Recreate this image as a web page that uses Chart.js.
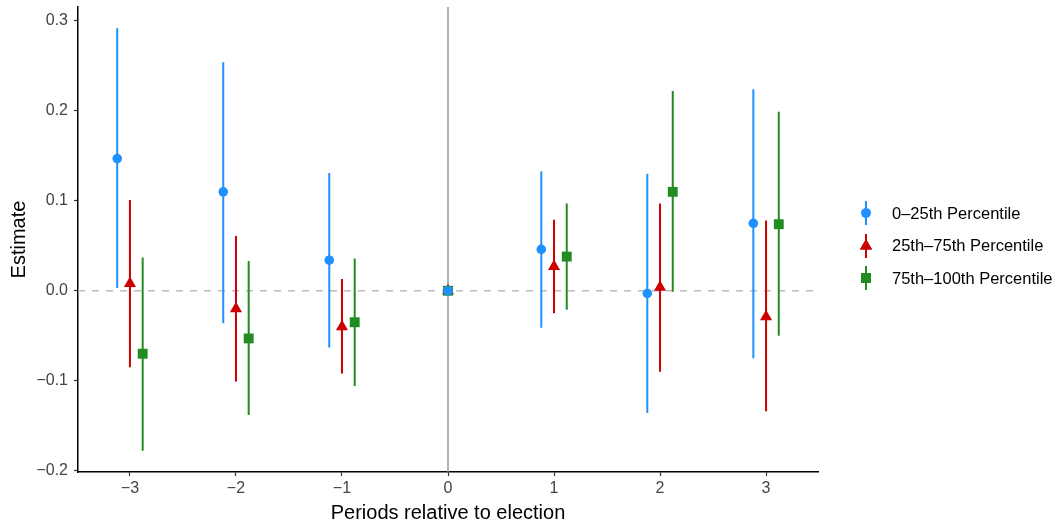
<!DOCTYPE html>
<html>
<head>
<meta charset="utf-8">
<script src="https://cdn.jsdelivr.net/npm/chart.js@4.4.0/dist/chart.umd.min.js"></script>
<style>
  html, body { margin: 0; padding: 0; background: #fff; }
  #wrap { position: relative; width: 1059px; height: 525px; }
  #legend { position: absolute; left: 850px; top: 197px; font-family: 'Liberation Sans', Arial, sans-serif; font-size: 16.5px; color: #000; }
  .item { display: flex; align-items: center; height: 32.5px; }
  .item canvas { width: 32px; height: 32px; margin-right: 10px; }
</style>
</head>
<body>
<div id="wrap">
  <canvas id="chart" width="1059" height="525"></canvas>
  <div id="legend"></div>
</div>
<script>
// ----- DATA ----- //
const periods = [-3, -2, -1, 0, 1, 2, 3];
const xTicks = [-3, -2, -1, 0, 1, 2, 3];
const yTicks = [-0.2, -0.1, 0.0, 0.1, 0.2, 0.3];

const labels = ['0\u201325th Percentile', '25th\u201375th Percentile', '75th\u2013100th Percentile'];

// 0-25th
const est_low = [0.147, 0.110, 0.034, 0, 0.046, -0.003, 0.075];
const lo_low  = [0.003, -0.036, -0.063, 0, -0.041, -0.136, -0.075];
const hi_low  = [0.292, 0.254, 0.131, 0, 0.133, 0.130, 0.224];
// 25th-75th
const est_mid = [0.008, -0.020, -0.040, 0, 0.027, 0.004, -0.029];
const lo_mid  = [-0.085, -0.101, -0.092, 0, -0.025, -0.090, -0.134];
const hi_mid  = [0.101, 0.061, 0.013, 0, 0.079, 0.097, 0.078];
// 75th-100th
const est_high = [-0.070, -0.053, -0.035, 0, 0.038, 0.110, 0.074];
const lo_high  = [-0.178, -0.138, -0.106, 0, -0.021, -0.001, -0.050];
const hi_high  = [0.037, 0.033, 0.036, 0, 0.097, 0.222, 0.199];

// reference period (0) is not dodged
const dodged = [true, true, true, false, true, true, true];

const colors = ['#1E90FF', '#CC0000', '#228B22'];
const styles = ['circle', 'triangle', 'rect'];
const radii = [4.8, 7, 7];
const dodge = 0.12;

// ----- HELPERS ----- //
function xPos(i, off) {
  return periods[i] + (dodged[i] ? off : 0);
}

function points(est, off) {
  return periods.map((p, i) => ({x: xPos(i, off), y: est[i]}));
}

function bars(lo, hi, off) {
  const d = [];
  periods.forEach((p, i) => {
    d.push({x: xPos(i, off), y: lo[i]});
    d.push({x: xPos(i, off), y: hi[i]});
    d.push({x: xPos(i, off), y: null});
  });
  return d;
}

function minus(v) {
  return v < 0 ? '\u2212' + Math.abs(v) : '' + v;
}

const font = 'Liberation Sans, Arial, Helvetica, sans-serif';

const series = [
  {est: est_low, lo: lo_low, hi: hi_low, off: -dodge},
  {est: est_mid, lo: lo_mid, hi: hi_mid, off: 0},
  {est: est_high, lo: lo_high, hi: hi_high, off: dodge}
];

const datasets = [];
const pointOrder = [0, 2, 1];
series.forEach((s, k) => {
  datasets.push({
    type: 'line',
    label: labels[k] + ' CI',
    data: bars(s.lo, s.hi, s.off),
    borderColor: colors[k],
    borderWidth: 2,
    pointRadius: 0,
    spanGaps: false,
    order: 10
  });
  datasets.push({
    type: 'scatter',
    label: labels[k],
    data: points(s.est, s.off),
    backgroundColor: colors[k],
    pointStyle: styles[k],
    pointRadius: radii[k],
    pointBorderWidth: 0,
    order: pointOrder[k]
  });
});

// ----- REFERENCE LINES ----- //
const refLines = {
  id: 'refLines',
  beforeDatasetsDraw(chart) {
    const {ctx, chartArea, scales} = chart;
    const x0 = scales.x.getPixelForValue(0);
    const y0 = scales.y.getPixelForValue(0);
    ctx.save();
    ctx.strokeStyle = '#9A9A9A';
    ctx.lineWidth = 1.5;
    ctx.beginPath();
    ctx.moveTo(x0, chartArea.top);
    ctx.lineTo(x0, chartArea.bottom);
    ctx.stroke();
    ctx.strokeStyle = '#BEBEBE';
    ctx.setLineDash([7, 7]);
    ctx.beginPath();
    ctx.moveTo(chartArea.left, y0);
    ctx.lineTo(chartArea.right, y0);
    ctx.stroke();
    ctx.restore();
  }
};

// ----- CHART ----- //
new Chart(document.getElementById('chart').getContext('2d'), {
  type: 'scatter',
  data: {datasets: datasets},
  plugins: [refLines],
  options: {
    responsive: false,
    animation: false,
    layout: {padding: {top: 7, right: 241, left: 0, bottom: 0}},
    plugins: {legend: {display: false}, tooltip: {enabled: false}},
    scales: {
      x: {
        type: 'linear',
        min: -3.49,
        max: 3.49,
        afterBuildTicks: (scale) => { scale.ticks = xTicks.map(v => ({value: v})); },
        afterFit: (scale) => { scale.height = 53; scale.paddingLeft = 0; scale.paddingRight = 0; },
        ticks: {
          font: {family: font, size: 16},
          color: '#444',
          padding: 3,
          callback: (v) => minus(v)
        },
        grid: {display: true, drawOnChartArea: false, drawTicks: true, tickLength: 4, tickColor: '#333', tickWidth: 1.2},
        border: {display: true, color: '#000', width: 1.5},
        title: {display: true, text: 'Periods relative to election', font: {family: font, size: 20}, color: '#000', padding: {top: 0, bottom: 0}}
      },
      y: {
        type: 'linear',
        min: -0.2015,
        max: 0.3155,
        afterBuildTicks: (scale) => { scale.ticks = yTicks.map(v => ({value: v})); },
        afterFit: (scale) => { scale.width = 78; scale.paddingTop = 0; scale.paddingBottom = 0; },
        ticks: {
          font: {family: font, size: 16},
          color: '#444',
          padding: 6,
          callback: (v) => { const t = Math.abs(v).toFixed(1); return v < -1e-9 ? '\u2212' + t : t; }
        },
        grid: {display: true, drawOnChartArea: false, drawTicks: true, tickLength: 4, tickColor: '#333', tickWidth: 1.2},
        border: {display: true, color: '#000', width: 1.5},
        title: {display: true, text: 'Estimate', font: {family: font, size: 20}, color: '#000', padding: {top: 7, bottom: 0}}
      }
    }
  }
});

// ----- LEGEND ----- //
const legend = document.getElementById('legend');
labels.forEach((label, k) => {
  const row = document.createElement('div');
  row.className = 'item';
  const c = document.createElement('canvas');
  c.width = 32; c.height = 32;
  const g = c.getContext('2d');
  g.strokeStyle = colors[k];
  g.lineWidth = 2;
  g.beginPath();
  g.moveTo(16, 4);
  g.lineTo(16, 28);
  g.stroke();
  g.fillStyle = colors[k];
  Chart.helpers.drawPoint(g, {pointStyle: styles[k], radius: radii[k], borderWidth: 0, rotation: 0}, 16, 16);
  g.fill();
  const span = document.createElement('span');
  span.textContent = label;
  row.appendChild(c);
  row.appendChild(span);
  legend.appendChild(row);
});
</script>
</body>
</html>
